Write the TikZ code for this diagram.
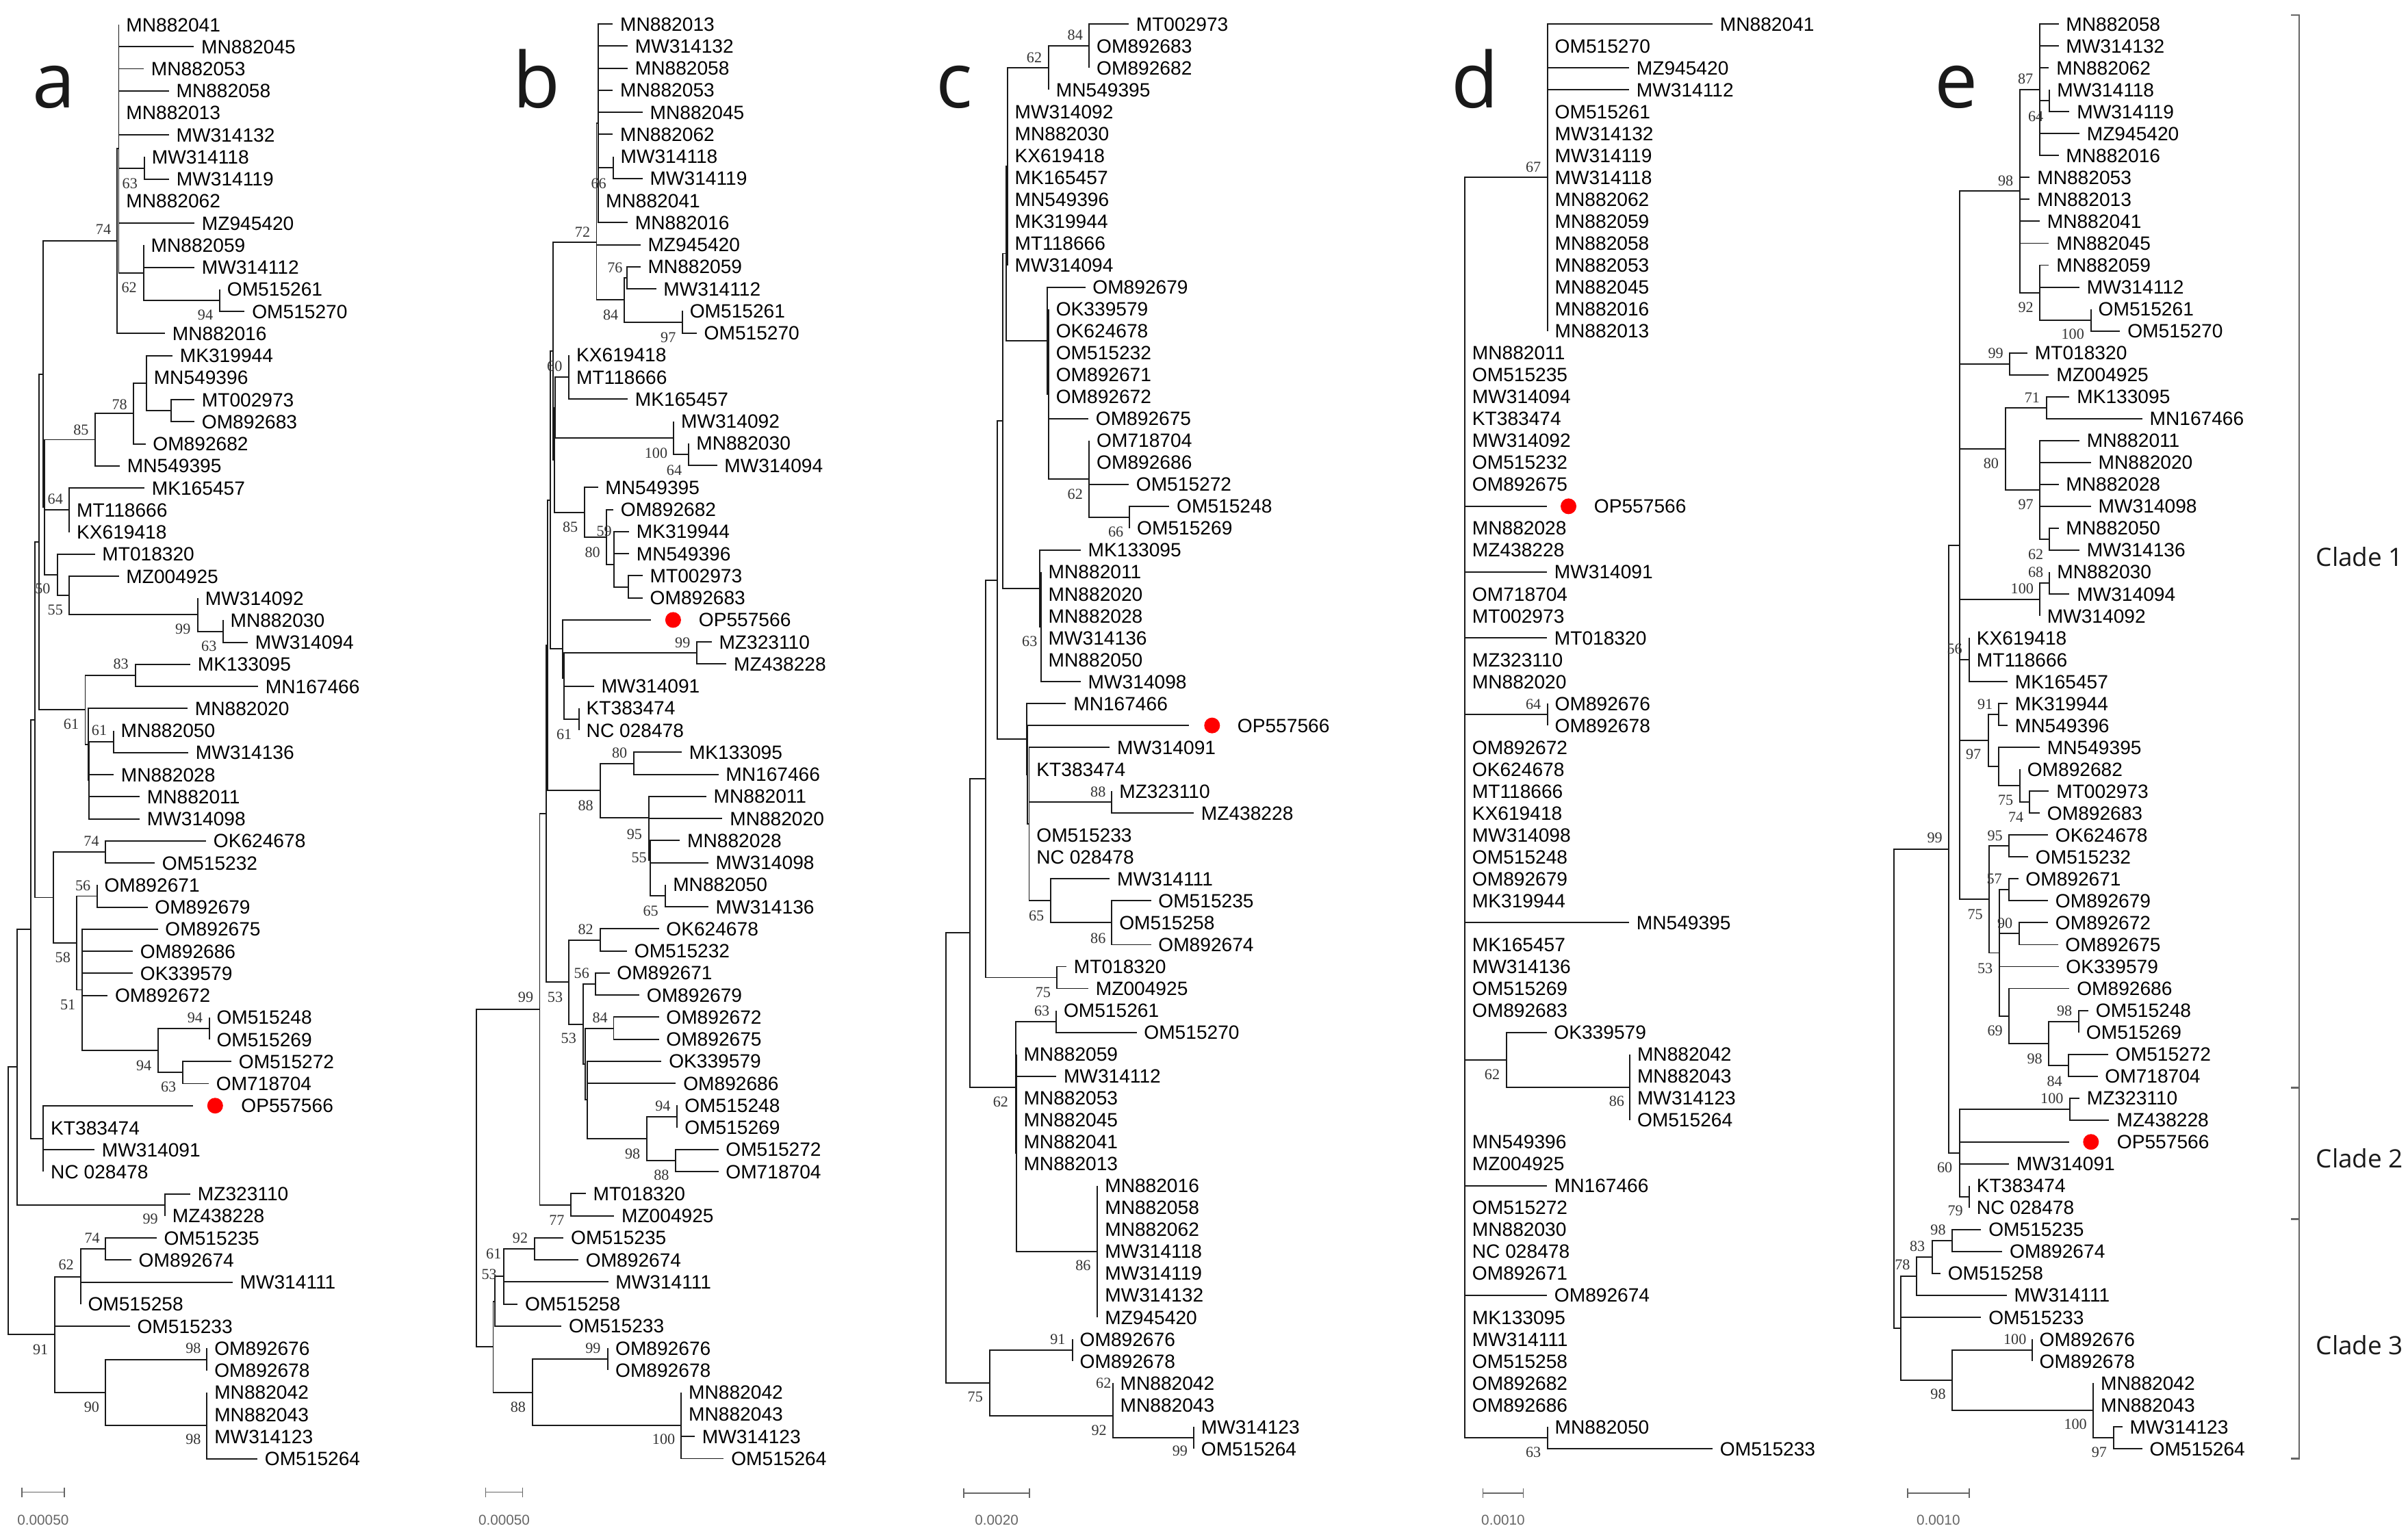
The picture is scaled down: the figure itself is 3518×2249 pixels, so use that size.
\documentclass[tikz,border=0pt]{standalone}
\usepackage{fontspec}
\setmainfont{Liberation Sans}
\newfontfamily\bsfont{Liberation Serif}
\newfontfamily\osfont{Open Sans}
\newcount\bsn
\newcommand\lf[4]{\coordinate (#1) at (#3,{\Yo+(#2-1)*\Dy}); \node[lab] (#1t) at (#1) {#4};}
\newcommand\opl[5]{\coordinate (#1) at (#3,{\Yo+(#2-1)*\Dy}); \node[rdot] (#1d) at (#4,{\Yo+(#2-1)*\Dy}) {}; \node[lab] (#1t) at (#5,{\Yo+(#2-1)*\Dy}) {OP557566};}
\newcommand\nd[4]{\path (#3) -- (#4) coordinate[pos=0.5] (#1m); \coordinate (#1) at (#2,0 |- #1m);}
\newcommand\kids[2]{\foreach \kk in {#2}{\draw[br] (#1) |- (\kk);}}
\newcommand\bs[3]{\global\advance\bsn by 1 \node[bsl] (bs\the\bsn) at (#1,#2) {#3};}
\newcommand\sbar[6]{\coordinate (#1L) at (#2,#4); \coordinate (#1R) at (#3,#4); \draw[sb] (#1L) -- (#1R); \draw[sb] (#1L) ++(0,-7) -- ++(0,14); \draw[sb] (#1R) ++(0,-7) -- ++(0,14); \node[sbl] (#1T) at ({(#2+#3)/2},#5) {#6};}
\tikzset{
 br/.style={draw=black!90, line width=0.55pt},
 lab/.style={anchor=west, inner xsep=2.9pt, inner ysep=0pt, text height=5.7pt, text depth=0pt, font=\fontsize{8}{9}\selectfont},
 bsl/.style={inner sep=0pt, font=\bsfont\fontsize{6.3}{7}\selectfont, text=black!80},
 rdot/.style={circle, fill=red, draw=none, inner sep=0pt, minimum size=0.23cm},
 sb/.style={draw=black!60, line width=0.5pt},
 sbl/.style={inner sep=0pt, font=\fontsize{5.9}{7}\selectfont, text=black!60},
 plet/.style={anchor=base, inner sep=0pt, font=\osfont\fontsize{32}{36}\selectfont, text=black!90},
 clade/.style={anchor=west, inner sep=0pt, font=\osfont\fontsize{10.5}{12}\selectfont, text=black!90},
 brk/.style={draw=black!60, line width=0.8pt}
}
\begin{document}
\begin{tikzpicture}[x=0.01cm,y=-0.01cm]
\fill[white] (0,0) rectangle (3518,2249);
\useasboundingbox (0,0) rectangle (3518,2249);
% panel letters
\node[plet] (La) at (79,158) {a};
\node[plet] (Lb) at (783.6,158) {b};
\node[plet] (Lc) at (1394,158) {c};
\node[plet] (Ld) at (2154.7,158) {d};
\node[plet] (Le) at (2858,158) {e};
%% ================= PANEL A =================
\def\Yo{36}\def\Dy{32.24}
\lf{a1}{1}{173.5}{MN882041}
\lf{a2}{2}{283.3}{MN882045}
\lf{a3}{3}{210}{MN882053}
\lf{a4}{4}{246.7}{MN882058}
\lf{a5}{5}{173.5}{MN882013}
\lf{a6}{6}{246.7}{MW314132}
\lf{a7}{7}{211}{MW314118}
\lf{a8}{8}{247}{MW314119}
\lf{a9}{9}{173.5}{MN882062}
\lf{a10}{10}{284}{MZ945420}
\lf{a11}{11}{209.8}{MN882059}
\lf{a12}{12}{284}{MW314112}
\lf{a13}{13}{321}{OM515261}
\lf{a14}{14}{357.4}{OM515270}
\lf{a15}{15}{241}{MN882016}
\lf{a16}{16}{252}{MK319944}
\lf{a17}{17}{213.9}{MN549396}
\lf{a18}{18}{284}{MT002973}
\lf{a19}{19}{284}{OM892683}
\lf{a20}{20}{212.5}{OM892682}
\lf{a21}{21}{175}{MN549395}
\lf{a22}{22}{211}{MK165457}
\lf{a23}{23}{101.2}{MT118666}
\lf{a24}{24}{101.2}{KX619418}
\lf{a25}{25}{138.5}{MT018320}
\lf{a26}{26}{173.5}{MZ004925}
\lf{a27}{27}{289}{MW314092}
\lf{a28}{28}{325.7}{MN882030}
\lf{a29}{29}{362}{MW314094}
\lf{a30}{30}{278}{MK133095}
\lf{a31}{31}{377}{MN167466}
\lf{a32}{32}{274}{MN882020}
\lf{a33}{33}{165.7}{MN882050}
\lf{a34}{34}{275}{MW314136}
\lf{a35}{35}{166}{MN882028}
\lf{a36}{36}{204}{MN882011}
\lf{a37}{37}{204}{MW314098}
\lf{a38}{38}{301}{OK624678}
\lf{a39}{39}{226}{OM515232}
\lf{a40}{40}{141.6}{OM892671}
\lf{a41}{41}{215.5}{OM892679}
\lf{a42}{42}{230.5}{OM892675}
\lf{a43}{43}{194}{OM892686}
\lf{a44}{44}{194}{OK339579}
\lf{a45}{45}{157.2}{OM892672}
\lf{a46}{46}{305.6}{OM515248}
\lf{a47}{47}{305.6}{OM515269}
\lf{a48}{48}{338}{OM515272}
\lf{a49}{49}{305}{OM718704}
\opl{a50}{50}{281.6}{314.3}{341.5}
\lf{a51}{51}{63.3}{KT383474}
\lf{a52}{52}{138}{MW314091}
\lf{a53}{53}{63.3}{NC 028478}
\lf{a54}{54}{278}{MZ323110}
\lf{a55}{55}{241}{MZ438228}
\lf{a56}{56}{228.6}{OM515235}
\lf{a57}{57}{191.8}{OM892674}
\lf{a58}{58}{339.7}{MW314111}
\lf{a59}{59}{117.6}{OM515258}
\lf{a60}{60}{189.7}{OM515233}
\lf{a61}{61}{302.4}{OM892676}
\lf{a62}{62}{302.4}{OM892678}
\lf{a63}{63}{302.4}{MN882042}
\lf{a64}{64}{302.4}{MN882043}
\lf{a65}{65}{302.4}{MW314123}
\lf{a66}{66}{376}{OM515264}
\nd{a63n}{211}{a7}{a8} \kids{a63n}{a7,a8}
\nd{a94n}{321}{a13}{a14} \kids{a94n}{a13,a14}
\nd{a62n}{209.8}{a11}{a94n} \kids{a62n}{a11,a12,a94n}
\nd{aIn}{173.5}{a1}{a62n} \kids{aIn}{a1,a2,a3,a4,a5,a6,a63n,a9,a10,a62n}
\nd{a74n}{170.6}{aIn}{a15} \kids{a74n}{aIn,a15}
\nd{a249n}{249.8}{a18}{a19} \kids{a249n}{a18,a19}
\nd{a214n}{213.9}{a16}{a249n} \kids{a214n}{a16,a17,a249n}
\nd{a78n}{195}{a214n}{a20} \kids{a78n}{a214n,a20}
\nd{a85n}{138.8}{a78n}{a21} \kids{a85n}{a78n,a21}
\nd{a64n}{101.2}{a22}{a24} \kids{a64n}{a22,a23,a24}
\nd{a63bn}{325.7}{a28}{a29} \kids{a63bn}{a28,a29}
\nd{a99n}{289}{a27}{a63bn} \kids{a99n}{a27,a63bn}
\nd{a55n}{101.2}{a26}{a99n} \kids{a55n}{a26,a99n}
\nd{a50n}{83.7}{a25}{a55n} \kids{a50n}{a25,a55n}
\nd{a65n}{65.3}{a85n}{a50n} \kids{a65n}{a85n,a64n,a50n}
\nd{a63cn}{63.3}{a74n}{a65n} \kids{a63cn}{a74n,a65n}
\nd{a83n}{197.6}{a30}{a31} \kids{a83n}{a30,a31}
\nd{a61bn}{165.7}{a33}{a34} \kids{a61bn}{a33,a34}
\nd{aYn}{130}{a61bn}{a37} \kids{aYn}{a61bn,a35,a36,a37}
\nd{aXn}{128.6}{a32}{aYn} \kids{aXn}{a32,aYn}
\nd{a61n}{124.5}{a83n}{aXn} \kids{a61n}{a83n,aXn}
\nd{a57n}{57.1}{a63cn}{a61n} \kids{a57n}{a63cn,a61n}
\nd{a74bn}{153.9}{a38}{a39} \kids{a74bn}{a38,a39}
\nd{a56n}{141.6}{a40}{a41} \kids{a56n}{a40,a41}
\nd{a94cn}{305.6}{a46}{a47} \kids{a94cn}{a46,a47}
\nd{a63dn}{267.3}{a48}{a49} \kids{a63dn}{a48,a49}
\nd{a94bn}{230.6}{a94cn}{a63dn} \kids{a94bn}{a94cn,a63dn}
\nd{a120n}{120.4}{a42}{a94bn} \kids{a120n}{a42,a43,a44,a45,a94bn}
\nd{a51n}{112.2}{a56n}{a120n} \kids{a51n}{a56n,a120n}
\nd{a58n}{77.6}{a74bn}{a51n} \kids{a58n}{a74bn,a51n}
\nd{a51xn}{51}{a57n}{a58n} \kids{a51xn}{a57n,a58n}
\nd{aKTn}{63.3}{a50}{a53} \kids{aKTn}{a50,a51,a52,a53}
\nd{a45n}{44.9}{a51xn}{aKTn} \kids{a45n}{a51xn,aKTn}
\nd{a99bn}{241}{a54}{a55} \kids{a99bn}{a54,a55}
\nd{a25n}{25.3}{a45n}{a99bn} \kids{a25n}{a45n,a99bn}
\nd{a74cn}{154.3}{a56}{a57} \kids{a74cn}{a56,a57}
\nd{a62bn}{117.6}{a74cn}{a59} \kids{a62bn}{a74cn,a58,a59}
\nd{a98an}{302.4}{a61}{a62} \kids{a98an}{a61,a62}
\nd{a98bn}{302.4}{a63}{a66} \kids{a98bn}{a63,a64,a65,a66}
\nd{a90n}{154.3}{a98an}{a98bn} \kids{a90n}{a98an,a98bn}
\nd{a91n}{79.6}{a62bn}{a90n} \kids{a91n}{a62bn,a60,a90n}
\nd{aRn}{12.2}{a25n}{a91n} \kids{aRn}{a25n,a91n}
\bs{189.8}{267.8}{63} \bs{151}{335.3}{74} \bs{188.6}{420.4}{62} \bs{300}{460.7}{94}
\bs{174.7}{591.3}{78} \bs{118.4}{628}{85} \bs{80.8}{729.3}{64} \bs{62.4}{860.6}{50}
\bs{80.8}{891.4}{55} \bs{267.3}{919.3}{99} \bs{305.3}{944.2}{63} \bs{176.7}{970.6}{83}
\bs{104}{1058.7}{61} \bs{145}{1067.5}{61} \bs{133.5}{1228.9}{74} \bs{121.2}{1294.1}{56}
\bs{91.8}{1398.9}{58} \bs{99.2}{1467.8}{51} \bs{284.9}{1486.8}{94} \bs{210.2}{1557.1}{94}
\bs{246.1}{1588.6}{63} \bs{219.6}{1781.3}{99} \bs{134.7}{1809.2}{74} \bs{96.7}{1848.7}{62}
\bs{59.2}{1971.8}{91} \bs{282.4}{1970.3}{98} \bs{133.9}{2056}{90} \bs{282.4}{2103.7}{98}
\sbar{asb}{31.8}{93.9}{2180.6}{2221}{0.00050}
%% ================= PANEL B =================
\def\Yo{35.2}\def\Dy{32.25}
\lf{b1}{1}{895.3}{MN882013}
\lf{b2}{2}{917}{MW314132}
\lf{b3}{3}{917}{MN882058}
\lf{b4}{4}{895.3}{MN882053}
\lf{b5}{5}{938.8}{MN882045}
\lf{b6}{6}{895.3}{MN882062}
\lf{b7}{7}{895.7}{MW314118}
\lf{b8}{8}{938.8}{MW314119}
\lf{b9}{9}{874.3}{MN882041}
\lf{b10}{10}{917}{MN882016}
\lf{b11}{11}{935.6}{MZ945420}
\lf{b12}{12}{935.6}{MN882059}
\lf{b13}{13}{958.5}{MW314112}
\lf{b14}{14}{996.9}{OM515261}
\lf{b15}{15}{1017.8}{OM515270}
\lf{b16}{16}{831.2}{KX619418}
\lf{b17}{17}{831.2}{MT118666}
\lf{b18}{18}{917}{MK165457}
\lf{b19}{19}{984.2}{MW314092}
\lf{b20}{20}{1006.4}{MN882030}
\lf{b21}{21}{1047.5}{MW314094}
\lf{b22}{22}{873.5}{MN549395}
\lf{b23}{23}{896}{OM892682}
\lf{b24}{24}{919}{MK319944}
\lf{b25}{25}{919}{MN549396}
\lf{b26}{26}{938.8}{MT002973}
\lf{b27}{27}{938.8}{OM892683}
\opl{b28}{28}{950.6}{983.4}{1010}
\lf{b29}{29}{1039.6}{MZ323110}
\lf{b30}{30}{1061.3}{MZ438228}
\lf{b31}{31}{867.6}{MW314091}
\lf{b32}{32}{845.8}{KT383474}
\lf{b33}{33}{845.8}{NC 028478}
\lf{b34}{34}{996}{MK133095}
\lf{b35}{35}{1049.5}{MN167466}
\lf{b36}{36}{1031.7}{MN882011}
\lf{b37}{37}{1055.4}{MN882020}
\lf{b38}{38}{993.3}{MN882028}
\lf{b39}{39}{1034.8}{MW314098}
\lf{b40}{40}{972.4}{MN882050}
\lf{b41}{41}{1034.8}{MW314136}
\lf{b42}{42}{962.5}{OK624678}
\lf{b43}{43}{916}{OM515232}
\lf{b44}{44}{890.5}{OM892671}
\lf{b45}{45}{934}{OM892679}
\lf{b46}{46}{962.5}{OM892672}
\lf{b47}{47}{962.5}{OM892675}
\lf{b48}{48}{966.4}{OK339579}
\lf{b49}{49}{987.4}{OM892686}
\lf{b50}{50}{989.4}{OM515248}
\lf{b51}{51}{989.4}{OM515269}
\lf{b52}{52}{1049.5}{OM515272}
\lf{b53}{53}{1049.5}{OM718704}
\lf{b54}{54}{855.7}{MT018320}
\lf{b55}{55}{897.2}{MZ004925}
\lf{b56}{56}{823.3}{OM515235}
\lf{b57}{57}{845}{OM892674}
\lf{b58}{58}{888.5}{MW314111}
\lf{b59}{59}{756.1}{OM515258}
\lf{b60}{60}{820.1}{OM515233}
\lf{b61}{61}{888.2}{OM892676}
\lf{b62}{62}{888.2}{OM892678}
\lf{b63}{63}{995.3}{MN882042}
\lf{b64}{64}{995.3}{MN882043}
\lf{b65}{65}{1015}{MW314123}
\lf{b66}{66}{1057.4}{OM515264}
\nd{b66n}{895.7}{b7}{b8} \kids{b66n}{b7,b8}
\nd{bBn}{874.3}{b1}{b10} \kids{bBn}{b1,b2,b3,b4,b5,b6,b66n,b9,b10}
\nd{b76n}{916.2}{b12}{b13} \kids{b76n}{b12,b13}
\nd{b97n}{996.9}{b14}{b15} \kids{b97n}{b14,b15}
\nd{b84n}{912.3}{b76n}{b97n} \kids{b84n}{b76n,b97n}
\nd{b72in}{871.5}{bBn}{b11} \kids{b72in}{bBn,b11}
\nd{b72n}{871.5}{b72in}{b84n} \kids{b72n}{b72in,b84n}
\nd{bKXn}{831.2}{b16}{b18} \kids{bKXn}{b16,b17,b18}
\nd{b64n}{1006.4}{b20}{b21} \kids{b64n}{b20,b21}
\nd{b100n}{984.2}{b19}{b64n} \kids{b100n}{b19,b64n}
\nd{bY2n}{811}{bKXn}{b100n} \kids{bY2n}{bKXn,b100n}
\nd{b2627n}{917.8}{b26}{b27} \kids{b2627n}{b26,b27}
\nd{b59in}{897.2}{b24}{b25} \kids{b59in}{b24,b25}
\nd{b59n}{897.2}{b59in}{b2627n} \kids{b59n}{b59in,b2627n}
\nd{b80n}{886.2}{b23}{b59n} \kids{b80n}{b23,b59n}
\nd{b85n}{853.7}{b22}{b80n} \kids{b85n}{b22,b80n}
\nd{bYn}{809.8}{bY2n}{b85n} \kids{bYn}{bY2n,b85n}
\nd{bXn}{808.3}{b72n}{bYn} \kids{bXn}{b72n,bYn}
\nd{b99mzn}{1017.8}{b29}{b30} \kids{b99mzn}{b29,b30}
\nd{b61n}{845.8}{b32}{b33} \kids{b61n}{b32,b33}
\nd{bO1n}{823.9}{b31}{b61n} \kids{bO1n}{b31,b61n}
\nd{bO2n}{823.9}{b99mzn}{bO1n} \kids{bO2n}{b99mzn,bO1n}
\nd{bOPn}{822}{b28}{bO2n} \kids{bOPn}{b28,bO2n}
\nd{bSn}{804.3}{bXn}{bOPn} \kids{bSn}{bXn,bOPn}
\nd{b80bn}{925.7}{b34}{b35} \kids{b80bn}{b34,b35}
\nd{b65n}{972.4}{b40}{b41} \kids{b65n}{b40,b41}
\nd{b55in}{949.8}{b39}{b65n} \kids{b55in}{b39,b65n}
\nd{b55n}{949.8}{b38}{b55in} \kids{b55n}{b38,b55in}
\nd{b95in}{947.9}{b37}{b55n} \kids{b95in}{b37,b55n}
\nd{b95n}{947.9}{b36}{b95in} \kids{b95n}{b36,b95in}
\nd{b88n}{876.7}{b80bn}{b95n} \kids{b88n}{b80bn,b95n}
\nd{bVn}{800.4}{bSn}{b88n} \kids{bVn}{bSn,b88n}
\nd{b82n}{876.7}{b42}{b43} \kids{b82n}{b42,b43}
\nd{b56n}{870.4}{b44}{b45} \kids{b56n}{b44,b45}
\nd{b84bn}{896.5}{b46}{b47} \kids{b84bn}{b46,b47}
\nd{b94n}{989.4}{b50}{b51} \kids{b94n}{b50,b51}
\nd{b88bn}{987.4}{b52}{b53} \kids{b88bn}{b52,b53}
\nd{b98n}{944.7}{b94n}{b88bn} \kids{b98n}{b94n,b88bn}
\nd{bWn}{857.7}{b48}{b98n} \kids{bWn}{b48,b49,b98n}
\nd{bZn}{855}{b84bn}{bWn} \kids{bZn}{b84bn,bWn}
\nd{b53bn}{851.8}{b56n}{bZn} \kids{b53bn}{b56n,bZn}
\nd{b53n}{831.2}{b82n}{b53bn} \kids{b53n}{b82n,b53bn}
\nd{b797n}{797.6}{bVn}{b53n} \kids{b797n}{bVn,b53n}
\nd{b77n}{834}{b54}{b55} \kids{b77n}{b54,b55}
\nd{b788n}{788.5}{b797n}{b77n} \kids{b788n}{b797n,b77n}
\nd{b92n}{780.6}{b56}{b57} \kids{b92n}{b56,b57}
\nd{b61cn}{735.9}{b92n}{b59} \kids{b61cn}{b92n,b58,b59}
\nd{b53cn}{723.3}{b61cn}{b60} \kids{b53cn}{b61cn,b60}
\nd{b99cn}{888.2}{b61}{b62} \kids{b99cn}{b61,b62}
\nd{b100cn}{995.3}{b63}{b66} \kids{b100cn}{b63,b64,b65,b66}
\nd{b88cn}{777.8}{b99cn}{b100cn} \kids{b88cn}{b99cn,b100cn}
\nd{bCrn}{720.5}{b53cn}{b88cn} \kids{bCrn}{b53cn,b88cn}
\nd{bRn}{696.4}{b788n}{bCrn} \kids{bRn}{b788n,bCrn}
\bs{874.7}{267.8}{66} \bs{851}{339}{72} \bs{898.4}{391}{76} \bs{892.1}{460.7}{84}
\bs{976.3}{493}{97} \bs{810.3}{535.6}{60} \bs{958.5}{662.5}{100} \bs{985}{687.5}{64}
\bs{833.2}{770.4}{85} \bs{882.6}{776.2}{59} \bs{865.6}{807}{80} \bs{997.3}{939.1}{99}
\bs{824.1}{1073.4}{61} \bs{905.2}{1100.5}{80} \bs{855.7}{1176.9}{88} \bs{926.9}{1219.4}{95}
\bs{933.6}{1253.8}{55} \bs{950.6}{1330.8}{65} \bs{855.7}{1357.9}{82} \bs{849.8}{1422.3}{56}
\bs{768}{1456.8}{99} \bs{811}{1456.8}{53} \bs{876.7}{1486.8}{84} \bs{830.8}{1517.6}{53}
\bs{968.4}{1616.5}{94} \bs{924.1}{1686.1}{98} \bs{966.4}{1717.6}{88} \bs{813.4}{1782.8}{77}
\bs{760}{1809.2}{92} \bs{721.3}{1832.6}{61} \bs{714.6}{1861.9}{53} \bs{866.4}{1970.3}{99}
\bs{756.9}{2056}{88} \bs{969.6}{2103.7}{100}
\sbar{bsb}{709.4}{763.6}{2180.6}{2221}{0.00050}
%% ================= PANEL C =================
\def\Yo{35.2}\def\Dy{32.03}
\lf{c1}{1}{1648.9}{MT002973}
\lf{c2}{2}{1591.3}{OM892683}
\lf{c3}{3}{1591.3}{OM892682}
\lf{c4}{4}{1532}{MN549395}
\lf{c5}{5}{1471.7}{MW314092}
\lf{c6}{6}{1471.7}{MN882030}
\lf{c7}{7}{1471.7}{KX619418}
\lf{c8}{8}{1471.7}{MK165457}
\lf{c9}{9}{1471.7}{MN549396}
\lf{c10}{10}{1471.7}{MK319944}
\lf{c11}{11}{1471.7}{MT118666}
\lf{c12}{12}{1471.7}{MW314094}
\lf{c13}{13}{1585.5}{OM892679}
\lf{c14}{14}{1531.9}{OK339579}
\lf{c15}{15}{1531.9}{OK624678}
\lf{c16}{16}{1531.9}{OM515232}
\lf{c17}{17}{1531.9}{OM892671}
\lf{c18}{18}{1531.9}{OM892672}
\lf{c19}{19}{1590}{OM892675}
\lf{c20}{20}{1591.3}{OM718704}
\lf{c21}{21}{1591.3}{OM892686}
\lf{c22}{22}{1649}{OM515272}
\lf{c23}{23}{1708.3}{OM515248}
\lf{c24}{24}{1650.3}{OM515269}
\lf{c25}{25}{1578.8}{MK133095}
\lf{c26}{26}{1520.8}{MN882011}
\lf{c27}{27}{1520.8}{MN882020}
\lf{c28}{28}{1520.8}{MN882028}
\lf{c29}{29}{1520.8}{MW314136}
\lf{c30}{30}{1520.8}{MN882050}
\lf{c31}{31}{1578.8}{MW314098}
\lf{c32}{32}{1557.4}{MN167466}
\opl{c33}{33}{1737.3}{1770.8}{1797}
\lf{c34}{34}{1621.3}{MW314091}
\lf{c35}{35}{1503.5}{KT383474}
\lf{c36}{36}{1624.4}{MZ323110}
\lf{c37}{37}{1744}{MZ438228}
\lf{c38}{38}{1503.5}{OM515233}
\lf{c39}{39}{1503.5}{NC 028478}
\lf{c40}{40}{1621.3}{MW314111}
\lf{c41}{41}{1681.5}{OM515235}
\lf{c42}{42}{1624.4}{OM515258}
\lf{c43}{43}{1681.5}{OM892674}
\lf{c44}{44}{1558}{MT018320}
\lf{c45}{45}{1590}{MZ004925}
\lf{c46}{46}{1543.1}{OM515261}
\lf{c47}{47}{1660.5}{OM515270}
\lf{c48}{48}{1484.6}{MN882059}
\lf{c49}{49}{1543.1}{MW314112}
\lf{c50}{50}{1484.6}{MN882053}
\lf{c51}{51}{1484.6}{MN882045}
\lf{c52}{52}{1484.6}{MN882041}
\lf{c53}{53}{1484.6}{MN882013}
\lf{c54}{54}{1603.4}{MN882016}
\lf{c55}{55}{1603.4}{MN882058}
\lf{c56}{56}{1603.4}{MN882062}
\lf{c57}{57}{1603.4}{MW314118}
\lf{c58}{58}{1603.4}{MW314119}
\lf{c59}{59}{1603.4}{MW314132}
\lf{c60}{60}{1603.4}{MZ945420}
\lf{c61}{61}{1566.8}{OM892676}
\lf{c62}{62}{1566.8}{OM892678}
\lf{c63}{63}{1625.7}{MN882042}
\lf{c64}{64}{1625.7}{MN882043}
\lf{c65}{65}{1744}{MW314123}
\lf{c66}{66}{1744}{OM515264}
\nd{c84n}{1591.3}{c1}{c3} \kids{c84n}{c1,c2,c3}
\nd{c62n}{1532}{c84n}{c4} \kids{c62n}{c84n,c4}
\nd{cAn}{1471.7}{c62n}{c12} \kids{cAn}{c62n,c5,c6,c7,c8,c9,c10,c11,c12}
\nd{c66n}{1650.3}{c23}{c24} \kids{c66n}{c23,c24}
\nd{c62dn}{1591.3}{c20}{c66n} \kids{c62dn}{c20,c21,c22,c66n}
\nd{cD2n}{1531.9}{c14}{c62dn} \kids{cD2n}{c14,c15,c16,c17,c18,c19,c62dn}
\nd{cD1n}{1529.7}{c13}{cD2n} \kids{cD1n}{c13,cD2n}
\nd{cBn}{1470.4}{cAn}{cD1n} \kids{cBn}{cAn,cD1n}
\nd{c63xn}{1520.8}{c26}{c31} \kids{c63xn}{c26,c27,c28,c29,c30,c31}
\nd{c63n}{1518.6}{c25}{c63xn} \kids{c63n}{c25,c63xn}
\nd{cCn}{1465}{cBn}{c63n} \kids{cCn}{cBn,c63n}
\nd{cMZn}{1624.4}{c36}{c37} \kids{cMZn}{c36,c37}
\nd{c86n}{1624.4}{c41}{c43} \kids{c86n}{c41,c42,c43}
\nd{c65n}{1535.1}{c40}{c86n} \kids{c65n}{c40,c86n}
\nd{cO3n}{1503.5}{c34}{c65n} \kids{cO3n}{c34,c35,cMZn,c38,c39,c65n}
\nd{cO2n}{1501}{c33}{cO3n} \kids{cO2n}{c33,cO3n}
\nd{cO1n}{1499.8}{c32}{cO2n} \kids{cO1n}{c32,cO2n}
\nd{cEn}{1457}{cCn}{cO1n} \kids{cEn}{cCn,cO1n}
\nd{c75n}{1544}{c44}{c45} \kids{c75n}{c44,c45}
\nd{cFn}{1440.4}{cEn}{c75n} \kids{cFn}{cEn,c75n}
\nd{c63dn}{1543.1}{c46}{c47} \kids{c63dn}{c46,c47}
\nd{c86cn}{1603.4}{c54}{c60} \kids{c86cn}{c54,c55,c56,c57,c58,c59,c60}
\nd{c62in}{1484.6}{c48}{c86cn} \kids{c62in}{c48,c49,c50,c51,c52,c53,c86cn}
\nd{c62on}{1483.8}{c63dn}{c62in} \kids{c62on}{c63dn,c62in}
\nd{cGn}{1416.8}{cFn}{c62on} \kids{cGn}{cFn,c62on}
\nd{c91n}{1566.8}{c61}{c62} \kids{c91n}{c61,c62}
\nd{c62en}{1625.7}{c63}{c64} \kids{c62en}{c63,c64}
\nd{c99n}{1744}{c65}{c66} \kids{c99n}{c65,c66}
\nd{c92n}{1625.7}{c62en}{c99n} \kids{c92n}{c62en,c99n}
\nd{c75bn}{1445.8}{c91n}{c92n} \kids{c75bn}{c91n,c92n}
\nd{cRn}{1382.4}{cGn}{c75bn} \kids{cRn}{cGn,c75bn}
\bs{1570.8}{51.4}{84} \bs{1511}{84.4}{62} \bs{1570.8}{722.7}{62} \bs{1630.2}{777.7}{66}
\bs{1504.3}{937.6}{63} \bs{1604.3}{1157.1}{88} \bs{1514.1}{1338.1}{65} \bs{1604.3}{1371.1}{86}
\bs{1523.9}{1450.2}{75} \bs{1522.1}{1477.3}{63} \bs{1461.9}{1610.6}{62} \bs{1582.4}{1849.5}{86}
\bs{1545.4}{1957.1}{91} \bs{1612.3}{2021.6}{62} \bs{1424.8}{2041.4}{75} \bs{1605.6}{2090.5}{92}
\bs{1723.9}{2120.5}{99}
\sbar{csb}{1407.9}{1504.3}{2182}{2221}{0.0020}
%% ================= PANEL D =================
\def\Yo{35.2}\def\Dy{32.03}
\lf{d1}{1}{2502}{MN882041}
\lf{d2}{2}{2260.8}{OM515270}
\lf{d3}{3}{2380}{MZ945420}
\lf{d4}{4}{2380}{MW314112}
\lf{d5}{5}{2260.8}{OM515261}
\lf{d6}{6}{2260.8}{MW314132}
\lf{d7}{7}{2260.8}{MW314119}
\lf{d8}{8}{2260.8}{MW314118}
\lf{d9}{9}{2260.8}{MN882062}
\lf{d10}{10}{2260.8}{MN882059}
\lf{d11}{11}{2260.8}{MN882058}
\lf{d12}{12}{2260.8}{MN882053}
\lf{d13}{13}{2260.8}{MN882045}
\lf{d14}{14}{2260.8}{MN882016}
\lf{d15}{15}{2260.8}{MN882013}
\lf{d16}{16}{2140}{MN882011}
\lf{d17}{17}{2140}{OM515235}
\lf{d18}{18}{2140}{MW314094}
\lf{d19}{19}{2140}{KT383474}
\lf{d20}{20}{2140}{MW314092}
\lf{d21}{21}{2140}{OM515232}
\lf{d22}{22}{2140}{OM892675}
\opl{d23}{23}{2260}{2291.5}{2318}
\lf{d24}{24}{2140}{MN882028}
\lf{d25}{25}{2140}{MZ438228}
\lf{d26}{26}{2260}{MW314091}
\lf{d27}{27}{2140}{OM718704}
\lf{d28}{28}{2140}{MT002973}
\lf{d29}{29}{2260}{MT018320}
\lf{d30}{30}{2140}{MZ323110}
\lf{d31}{31}{2140}{MN882020}
\lf{d32}{32}{2260.8}{OM892676}
\lf{d33}{33}{2260.8}{OM892678}
\lf{d34}{34}{2140}{OM892672}
\lf{d35}{35}{2140}{OK624678}
\lf{d36}{36}{2140}{MT118666}
\lf{d37}{37}{2140}{KX619418}
\lf{d38}{38}{2140}{MW314098}
\lf{d39}{39}{2140}{OM515248}
\lf{d40}{40}{2140}{OM892679}
\lf{d41}{41}{2140}{MK319944}
\lf{d42}{42}{2380}{MN549395}
\lf{d43}{43}{2140}{MK165457}
\lf{d44}{44}{2140}{MW314136}
\lf{d45}{45}{2140}{OM515269}
\lf{d46}{46}{2140}{OM892683}
\lf{d47}{47}{2259.5}{OK339579}
\lf{d48}{48}{2381.1}{MN882042}
\lf{d49}{49}{2381.1}{MN882043}
\lf{d50}{50}{2381.1}{MW314123}
\lf{d51}{51}{2381.1}{OM515264}
\lf{d52}{52}{2140}{MN549396}
\lf{d53}{53}{2140}{MZ004925}
\lf{d54}{54}{2260}{MN167466}
\lf{d55}{55}{2140}{OM515272}
\lf{d56}{56}{2140}{MN882030}
\lf{d57}{57}{2140}{NC 028478}
\lf{d58}{58}{2140}{OM892671}
\lf{d59}{59}{2260}{OM892674}
\lf{d60}{60}{2140}{MK133095}
\lf{d61}{61}{2140}{MW314111}
\lf{d62}{62}{2140}{OM515258}
\lf{d63}{63}{2140}{OM892682}
\lf{d64}{64}{2140}{OM892686}
\lf{d65}{65}{2260.8}{MN882050}
\lf{d66}{66}{2502}{OM515233}
\nd{d67n}{2260.8}{d1}{d15} \kids{d67n}{d1,d2,d3,d4,d5,d6,d7,d8,d9,d10,d11,d12,d13,d14,d15}
\nd{d64n}{2260.8}{d32}{d33} \kids{d64n}{d32,d33}
\nd{d86n}{2381.1}{d48}{d51} \kids{d86n}{d48,d49,d50,d51}
\nd{d62n}{2201}{d47}{d86n} \kids{d62n}{d47,d86n}
\nd{d63n}{2260.8}{d65}{d66} \kids{d63n}{d65,d66}
\nd{dRn}{2140}{d67n}{d63n}
\kids{dRn}{d67n,d16,d17,d18,d19,d20,d21,d22,d23,d24,d25,d26,d27,d28,d29,d30,d31,d64n,d34,d35,d36,d37,d38,d39,d40,d41,d42,d43,d44,d45,d46,d62n,d52,d53,d54,d55,d56,d57,d58,d59,d60,d61,d62,d63,d64,d63n}
\bs{2240.2}{244.3}{67} \bs{2240.2}{1029.3}{64} \bs{2180}{1570.3}{62} \bs{2361.8}{1609.2}{86}
\bs{2240.2}{2122}{63}
\sbar{dsb}{2166.5}{2225.4}{2182}{2221}{0.0010}
%% ================= PANEL E =================
\def\Yo{35.2}\def\Dy{32.03}
\lf{e1}{1}{3007.5}{MN882058}
\lf{e2}{2}{3007.5}{MW314132}
\lf{e3}{3}{2993.4}{MN882062}
\lf{e4}{4}{2994.4}{MW314118}
\lf{e5}{5}{3023.4}{MW314119}
\lf{e6}{6}{3037.9}{MZ945420}
\lf{e7}{7}{3007.5}{MN882016}
\lf{e8}{8}{2965.4}{MN882053}
\lf{e9}{9}{2965.4}{MN882013}
\lf{e10}{10}{2979.9}{MN882041}
\lf{e11}{11}{2993.4}{MN882045}
\lf{e12}{12}{2993.4}{MN882059}
\lf{e13}{13}{3037.9}{MW314112}
\lf{e14}{14}{3054.8}{OM515261}
\lf{e15}{15}{3097.4}{OM515270}
\lf{e16}{16}{2962}{MT018320}
\lf{e17}{17}{2993.4}{MZ004925}
\lf{e18}{18}{3023.4}{MK133095}
\lf{e19}{19}{3129.7}{MN167466}
\lf{e20}{20}{3037.9}{MN882011}
\lf{e21}{21}{3054.8}{MN882020}
\lf{e22}{22}{3007.5}{MN882028}
\lf{e23}{23}{3054.8}{MW314098}
\lf{e24}{24}{3007.5}{MN882050}
\lf{e25}{25}{3037.9}{MW314136}
\lf{e26}{26}{2994.4}{MN882030}
\lf{e27}{27}{3023.4}{MW314094}
\lf{e28}{28}{2979.9}{MW314092}
\lf{e29}{29}{2877}{KX619418}
\lf{e30}{30}{2877}{MT118666}
\lf{e31}{31}{2933}{MK165457}
\lf{e32}{32}{2933}{MK319944}
\lf{e33}{33}{2933}{MN549396}
\lf{e34}{34}{2980}{MN549395}
\lf{e35}{35}{2950.9}{OM892682}
\lf{e36}{36}{2993.4}{MT002973}
\lf{e37}{37}{2980}{OM892683}
\lf{e38}{38}{2992}{OK624678}
\lf{e39}{39}{2963}{OM515232}
\lf{e40}{40}{2948.5}{OM892671}
\lf{e41}{41}{2992}{OM892679}
\lf{e42}{42}{2992}{OM892672}
\lf{e43}{43}{3006.5}{OM892675}
\lf{e44}{44}{3007.5}{OK339579}
\lf{e45}{45}{3023.4}{OM892686}
\lf{e46}{46}{3051}{OM515248}
\lf{e47}{47}{3037}{OM515269}
\lf{e48}{48}{3080}{OM515272}
\lf{e49}{49}{3064.5}{OM718704}
\lf{e50}{50}{3037.9}{MZ323110}
\lf{e51}{51}{3081.4}{MZ438228}
\opl{e52}{52}{3023.4}{3054.8}{3082}
\lf{e53}{53}{2935}{MW314091}
\lf{e54}{54}{2877}{KT383474}
\lf{e55}{55}{2877}{NC 028478}
\lf{e56}{56}{2894.4}{OM515235}
\lf{e57}{57}{2925.3}{OM892674}
\lf{e58}{58}{2834.9}{OM515258}
\lf{e59}{59}{2931.6}{MW314111}
\lf{e60}{60}{2894.4}{OM515233}
\lf{e61}{61}{2968.8}{OM892676}
\lf{e62}{62}{2968.8}{OM892678}
\lf{e63}{63}{3058.2}{MN882042}
\lf{e64}{64}{3058.2}{MN882043}
\lf{e65}{65}{3100.7}{MW314123}
\lf{e66}{66}{3129.7}{OM515264}
\nd{e64n}{2994.4}{e4}{e5} \kids{e64n}{e4,e5}
\nd{e87n}{2979.9}{e1}{e7} \kids{e87n}{e1,e2,e3,e64n,e6,e7}
\nd{e100n}{3054.8}{e14}{e15} \kids{e100n}{e14,e15}
\nd{e92n}{2979.9}{e12}{e100n} \kids{e92n}{e12,e13,e100n}
\nd{e98n}{2950.9}{e87n}{e92n} \kids{e98n}{e87n,e8,e9,e10,e11,e92n}
\nd{e99n}{2936.4}{e16}{e17} \kids{e99n}{e16,e17}
\nd{e71n}{2989.6}{e18}{e19} \kids{e71n}{e18,e19}
\nd{e62n}{2994.4}{e24}{e25} \kids{e62n}{e24,e25}
\nd{e97n}{2979.9}{e20}{e62n} \kids{e97n}{e20,e21,e22,e23,e62n}
\nd{e80n}{2930.1}{e71n}{e97n} \kids{e80n}{e71n,e97n}
\nd{e68n}{2994.4}{e26}{e27} \kids{e68n}{e26,e27}
\nd{e100fn}{2979.9}{e68n}{e28} \kids{e100fn}{e68n,e28}
\nd{e56n}{2877}{e29}{e31} \kids{e56n}{e29,e30,e31}
\nd{e91n}{2919.5}{e32}{e33} \kids{e91n}{e32,e33}
\nd{e74n}{2965.4}{e36}{e37} \kids{e74n}{e36,e37}
\nd{e75n}{2950.9}{e35}{e74n} \kids{e75n}{e35,e74n}
\nd{eXn}{2919.5}{e34}{e75n} \kids{eXn}{e34,e75n}
\nd{e97fn}{2905}{e91n}{eXn} \kids{e97fn}{e91n,eXn}
\nd{e95n}{2935}{e38}{e39} \kids{e95n}{e38,e39}
\nd{e57n}{2935}{e40}{e41} \kids{e57n}{e40,e41}
\nd{e90n}{2949.5}{e42}{e43} \kids{e90n}{e42,e43}
\nd{e98fn}{3037}{e46}{e47} \kids{e98fn}{e46,e47}
\nd{e84n}{3022.4}{e48}{e49} \kids{e84n}{e48,e49}
\nd{e98en}{2993.4}{e98fn}{e84n} \kids{e98en}{e98fn,e84n}
\nd{e69n}{2935}{e45}{e98en} \kids{e69n}{e45,e98en}
\nd{e53n}{2920.5}{e57n}{e69n} \kids{e53n}{e57n,e90n,e44,e69n}
\nd{e75fn}{2906}{e95n}{e53n} \kids{e75fn}{e95n,e53n}
\nd{eC1n}{2862.5}{e98n}{e75fn} \kids{eC1n}{e98n,e99n,e80n,e100fn,e56n,e97fn,e75fn}
\nd{e100gn}{3024.4}{e50}{e51} \kids{e100gn}{e50,e51}
\nd{e79n}{2877}{e54}{e55} \kids{e79n}{e54,e55}
\nd{e60n}{2862.5}{e100gn}{e79n} \kids{e60n}{e100gn,e52,e53,e79n}
\nd{e99gn}{2847}{eC1n}{e60n} \kids{e99gn}{eC1n,e60n}
\nd{e98hn}{2851.8}{e56}{e57} \kids{e98hn}{e56,e57}
\nd{e83n}{2822.8}{e98hn}{e58} \kids{e83n}{e98hn,e58}
\nd{e78bn}{2799.6}{e83n}{e59} \kids{e78bn}{e83n,e59}
\nd{e100hn}{2968.8}{e61}{e62} \kids{e100hn}{e61,e62}
\nd{e97gn}{3087.7}{e65}{e66} \kids{e97gn}{e65,e66}
\nd{e100in}{3058.2}{e63}{e97gn} \kids{e100in}{e63,e64,e97gn}
\nd{e98gn}{2851.8}{e100hn}{e100in} \kids{e98gn}{e100hn,e100in}
\nd{e78n}{2776.9}{e78bn}{e98gn} \kids{e78n}{e78bn,e60,e98gn}
\nd{eRn}{2767.2}{e99gn}{e78n} \kids{eRn}{e99gn,e78n}
\bs{2959.1}{115.2}{87} \bs{2974.1}{170.2}{64} \bs{2930.1}{264.1}{98} \bs{2959.6}{449.7}{92}
\bs{3028.2}{487.9}{100} \bs{2915.6}{515.8}{99} \bs{2968.8}{581.1}{71} \bs{2908.9}{677.2}{80}
\bs{2959.6}{737.3}{97} \bs{2974.1}{810.7}{62} \bs{2974.1}{836.4}{68} \bs{2954.3}{860.6}{100}
\bs{2855.7}{948.6}{56} \bs{2900.2}{1029.3}{91} \bs{2883.2}{1102.7}{97} \bs{2930.1}{1169.6}{75}
\bs{2945.1}{1193.8}{74} \bs{2826.7}{1224.5}{99} \bs{2914.7}{1220.9}{95} \bs{2913.7}{1284.6}{57}
\bs{2885.7}{1335.9}{75} \bs{2929.2}{1349.1}{90} \bs{2900.2}{1415}{53} \bs{3016.2}{1477.3}{98}
\bs{2914.7}{1506.6}{69} \bs{2972.7}{1546.9}{98} \bs{3001.7}{1579.9}{84} \bs{2997.8}{1605.5}{100}
\bs{2841.2}{1706.6}{60} \bs{2856.7}{1768.9}{79} \bs{2831.5}{1797.4}{98} \bs{2801.1}{1821.6}{83}
\bs{2779.3}{1848.7}{78} \bs{2943.7}{1957.1}{100} \bs{2831.5}{2037.7}{98} \bs{3032.1}{2081.7}{100}
\bs{3066.9}{2122}{97}
\sbar{esb}{2786.6}{2877}{2182}{2221}{0.0010}
%% clade bracket
\coordinate (k0a) at (3347,22); \coordinate (k0b) at (3359,22);
\coordinate (k1a) at (3347,1589.4); \coordinate (k1b) at (3359,1589.4);
\coordinate (k2a) at (3347,1781.3); \coordinate (k2b) at (3359,1781.3);
\coordinate (k3a) at (3347,2131.5); \coordinate (k3b) at (3359,2131.5);
\draw[brk] (k0a) -- (k0b) -- (k3b) -- (k3a);
\draw[brk] (k1a) -- (k1b);
\draw[brk] (k2a) -- (k2b);
\node[clade] (cl1) at (3383,814) {Clade 1};
\node[clade] (cl2) at (3383,1693) {Clade 2};
\node[clade] (cl3) at (3383,1966) {Clade 3};
\end{tikzpicture}
\end{document}
